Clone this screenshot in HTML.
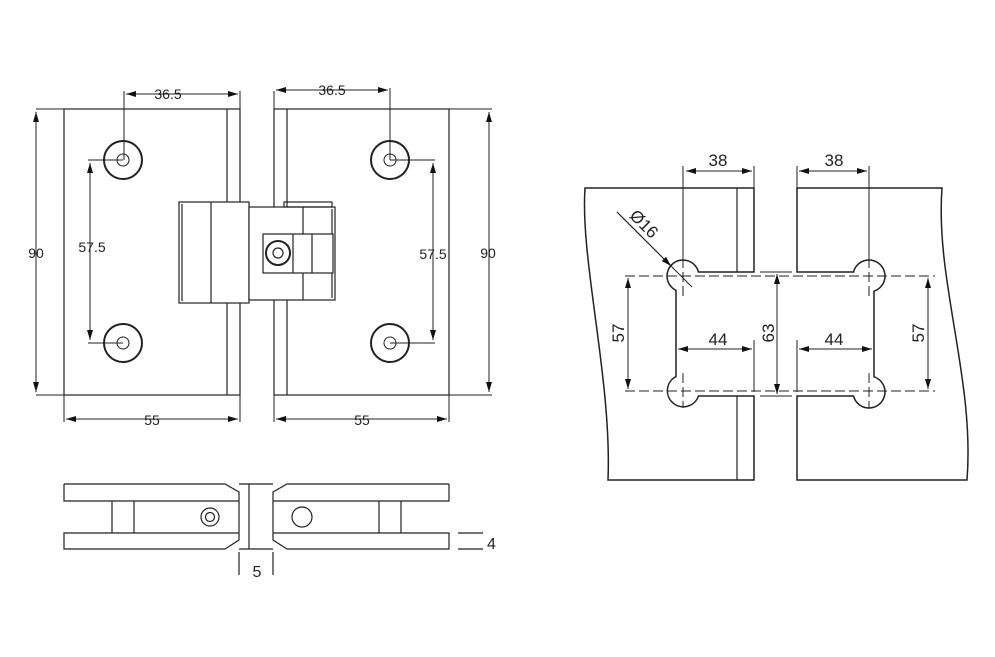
<!DOCTYPE html><html><head><style>body{margin:0;background:#fff}svg{display:block}text{font-family:"Liberation Sans",sans-serif;fill:#222}</style></head><body>
<svg width="995" height="657" viewBox="0 0 995 657" xmlns="http://www.w3.org/2000/svg">
<defs><marker id="a" markerWidth="10" markerHeight="6" refX="10" refY="3" orient="auto-start-reverse" markerUnits="userSpaceOnUse"><path d="M0,0L10,3L0,6z" fill="#111"/></marker></defs>
<g stroke="#222" fill="none" stroke-width="1.2">
<rect x="64" y="109" width="176" height="286"/><line x1="227" y1="109" x2="227" y2="395"/>
<rect x="274" y="109" width="175" height="286"/><line x1="287" y1="109" x2="287" y2="395"/>
<rect x="179" y="202" width="70" height="101" fill="#fff"/>
<rect x="249" y="207" width="86" height="93" fill="#fff"/>
<line x1="211" y1="202" x2="211" y2="303"/><line x1="182" y1="204" x2="182" y2="301"/><line x1="332" y1="209" x2="332" y2="298"/>
<rect x="284" y="202" width="48" height="5"/>
<line x1="303" y1="207" x2="303" y2="234"/><line x1="303" y1="273" x2="303" y2="300"/>
<rect x="263" y="234" width="70" height="39" fill="#fff"/>
<line x1="293" y1="234" x2="293" y2="273"/><line x1="312" y1="234" x2="312" y2="273"/>
<circle cx="278" cy="253" r="12" stroke-width="2"/><circle cx="278" cy="253" r="5"/>
<g stroke-width="2"><circle cx="123" cy="160" r="19"/><circle cx="123" cy="343" r="19"/><circle cx="390" cy="160" r="19"/><circle cx="390" cy="343" r="19"/></g>
<g stroke-width="1"><circle cx="123" cy="160" r="6"/><circle cx="123" cy="343" r="6"/><circle cx="390" cy="160" r="6"/><circle cx="390" cy="343" r="6"/></g>
<g stroke-width="1">
<line x1="36" y1="109" x2="64" y2="109"/><line x1="36" y1="395" x2="64" y2="395"/>
<line x1="36" y1="112" x2="36" y2="392" marker-start="url(#a)" marker-end="url(#a)"/>
<line x1="449" y1="109" x2="492" y2="109"/><line x1="449" y1="395" x2="492" y2="395"/>
<line x1="489" y1="112" x2="489" y2="392" marker-start="url(#a)" marker-end="url(#a)"/>
<line x1="124" y1="91" x2="124" y2="160"/><line x1="240" y1="91" x2="240" y2="109"/>
<line x1="126" y1="94" x2="238" y2="94" marker-start="url(#a)" marker-end="url(#a)"/>
<line x1="274" y1="91" x2="274" y2="109"/><line x1="390" y1="88" x2="390" y2="160"/>
<line x1="276" y1="90" x2="388" y2="90" marker-start="url(#a)" marker-end="url(#a)"/>
<line x1="88" y1="160" x2="123" y2="160"/><line x1="88" y1="343" x2="123" y2="343"/>
<line x1="90" y1="163" x2="90" y2="340" marker-start="url(#a)" marker-end="url(#a)"/>
<line x1="390" y1="160" x2="435" y2="160"/><line x1="390" y1="343" x2="435" y2="343"/>
<line x1="433" y1="163" x2="433" y2="340" marker-start="url(#a)" marker-end="url(#a)"/>
<line x1="64" y1="395" x2="64" y2="422"/><line x1="240" y1="395" x2="240" y2="422"/>
<line x1="66" y1="419" x2="238" y2="419" marker-start="url(#a)" marker-end="url(#a)"/>
<line x1="274" y1="395" x2="274" y2="422"/><line x1="449" y1="395" x2="449" y2="422"/>
<line x1="276" y1="419" x2="447" y2="419" marker-start="url(#a)" marker-end="url(#a)"/>
</g>
<path d="M64,484H225L239,492V540L225,549H64V533H239M64,484V501H239" fill="#fff"/>
<path d="M449,484H287L273,492V540L287,549H449V533H273M449,484V501H273" fill="#fff"/>
<line x1="239" y1="484" x2="273" y2="484"/><line x1="239" y1="549" x2="273" y2="549"/><line x1="249" y1="484" x2="249" y2="549"/>
<line x1="112" y1="501" x2="112" y2="533"/><line x1="134" y1="501" x2="134" y2="533"/>
<line x1="379" y1="501" x2="379" y2="533"/><line x1="401" y1="501" x2="401" y2="533"/>
<circle cx="210" cy="517" r="9"/><circle cx="210" cy="517" r="4.5"/><circle cx="302" cy="517" r="10"/>
<line x1="458" y1="533" x2="483" y2="533"/><line x1="458" y1="549" x2="483" y2="549"/>
<line x1="239" y1="552" x2="239" y2="575"/><line x1="273" y1="552" x2="273" y2="575"/>
<path d="M754,272H698.5A16,16 0 1 0 676,290.4V376.6A16,16 0 1 0 698.5,396H754V480H608C612,380 580,260 585,188H754Z" stroke-width="1.5"/>
<line x1="737" y1="188" x2="737" y2="272"/><line x1="737" y1="396" x2="737" y2="480"/>
<path d="M797,188H942C935,280 975,380 967,480H797V396H853.5A16,16 0 1 0 874,376.8V291.2A16,16 0 1 0 853.5,272H797Z" stroke-width="1.5"/>
<g stroke-width="1">
<g stroke-dasharray="10,4"><line x1="625" y1="276" x2="935" y2="276"/><line x1="625" y1="391" x2="935" y2="391"/>
<line x1="683" y1="258" x2="683" y2="296"/><line x1="683" y1="373" x2="683" y2="408"/><line x1="869" y1="258" x2="869" y2="296"/><line x1="869" y1="373" x2="869" y2="408"/></g>
<line x1="683" y1="166" x2="683" y2="260"/><line x1="754" y1="166" x2="754" y2="188"/>
<line x1="686" y1="171" x2="752" y2="171" marker-start="url(#a)" marker-end="url(#a)"/>
<line x1="797" y1="166" x2="797" y2="188"/><line x1="869" y1="166" x2="869" y2="260"/>
<line x1="799" y1="171" x2="867" y2="171" marker-start="url(#a)" marker-end="url(#a)"/>
<line x1="754" y1="340" x2="754" y2="392"/><line x1="678" y1="349" x2="752" y2="349" marker-start="url(#a)" marker-end="url(#a)"/>
<line x1="797" y1="340" x2="797" y2="392"/><line x1="799" y1="349" x2="872" y2="349" marker-start="url(#a)" marker-end="url(#a)"/>
<line x1="760" y1="272" x2="792" y2="272"/><line x1="760" y1="396" x2="792" y2="396"/>
<line x1="777" y1="274" x2="777" y2="394" marker-start="url(#a)" marker-end="url(#a)"/>
<line x1="628" y1="278" x2="628" y2="389" marker-start="url(#a)" marker-end="url(#a)"/>
<line x1="928" y1="278" x2="928" y2="389" marker-start="url(#a)" marker-end="url(#a)"/>
<line x1="617" y1="212" x2="692" y2="287"/><line x1="617" y1="212" x2="671" y2="266" marker-end="url(#a)"/>
</g>
</g>
<g font-size="14">
<text x="168" y="99" text-anchor="middle">36.5</text><text x="332" y="95" text-anchor="middle">36.5</text>
<text x="36" y="258" text-anchor="middle">90</text><text x="488" y="258" text-anchor="middle">90</text>
<text x="92" y="252" text-anchor="middle">57.5</text><text x="433" y="259" text-anchor="middle">57.5</text>
<text x="152" y="425" text-anchor="middle">55</text><text x="362" y="425" text-anchor="middle">55</text>
<text x="487" y="549" font-size="16">4</text><text x="257" y="577" text-anchor="middle" font-size="16">5</text>
</g>
<g font-size="17">
<text x="718" y="166" text-anchor="middle">38</text><text x="834" y="166" text-anchor="middle">38</text>
<text x="718" y="345" text-anchor="middle">44</text><text x="834" y="345" text-anchor="middle">44</text>
<text transform="translate(774,333) rotate(-90)" text-anchor="middle">63</text>
<text transform="translate(624,333) rotate(-90)" text-anchor="middle">57</text>
<text transform="translate(924,333) rotate(-90)" text-anchor="middle">57</text>
<text transform="translate(640,228) rotate(45)" text-anchor="middle">Ø16</text>
</g>
</svg></body></html>
